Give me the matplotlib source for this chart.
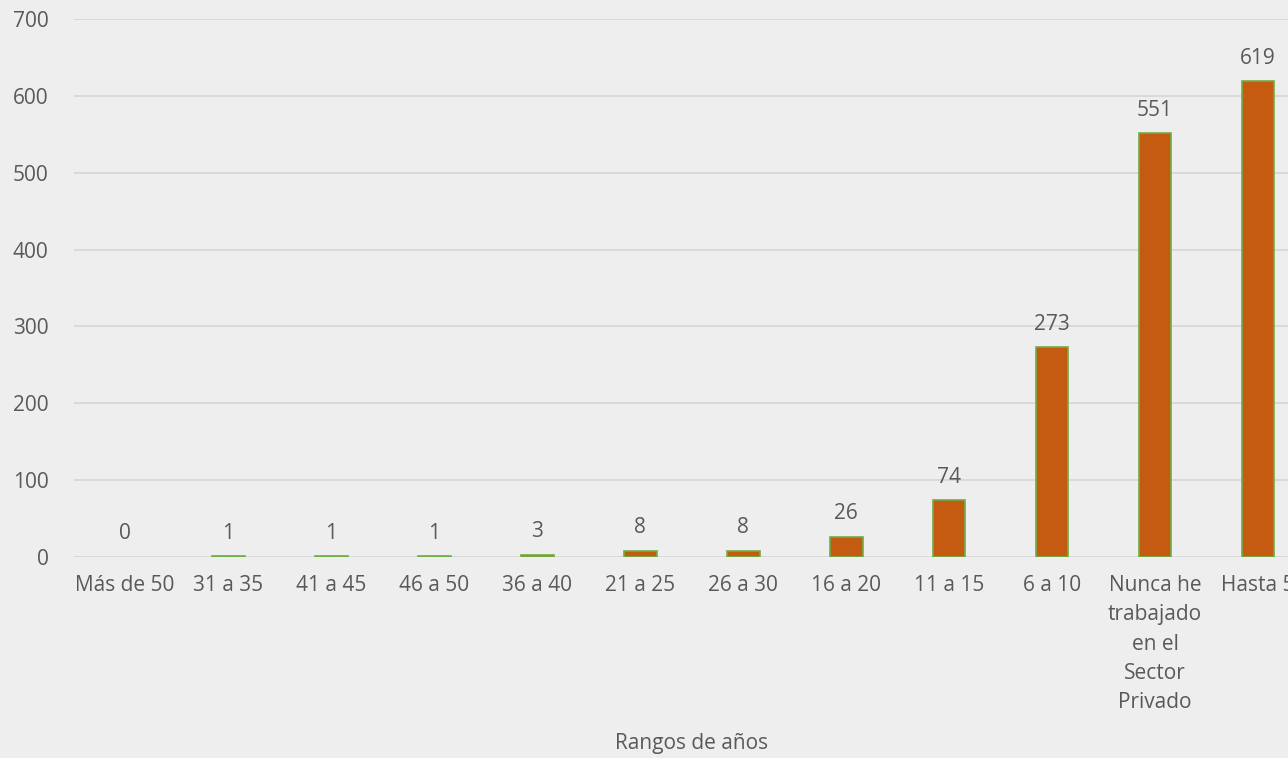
import numpy as np
import matplotlib.pyplot as plt

# Años trabajados en el sector privado
rangos = ["Más de 50", "31 a 35", "41 a 45", "46 a 50", "36 a 40", "21 a 25",
          "26 a 30", "16 a 20", "11 a 15", "6 a 10",
          "Nunca he\ntrabajado\nen el\nSector\nPrivado", "Hasta 5"]
cantidad = [0, 1, 1, 1, 3, 8, 8, 26, 74, 273, 551, 619]
yticks = [0, 100, 200, 300, 400, 500, 600, 700]

texto = "#595959"
plt.rcParams['font.family'] = ['Open Sans', 'DejaVu Sans']

fig = plt.figure(figsize=(12.88, 7.58), dpi=100)
fig.patch.set_facecolor("#EEEEEE")
ax = fig.add_axes([0.0571, 0.2652, 0.9596, 0.7098])
ax.set_facecolor("#EEEEEE")

x = np.arange(len(rangos))
anchos = [0 if v == 0 else 1.2 for v in cantidad]
barras = ax.bar(x, cantidad, width=0.32, color="#C55A11", edgecolor="#70AD47",
                linewidth=anchos, zorder=3)

for xi, v in zip(x, cantidad):
    ax.annotate(str(v), (xi, v), xytext=(0, 9), textcoords="offset points",
                ha="center", va="bottom", fontsize=15, color=texto)

ax.set_xlim(-0.5, len(rangos) - 0.5)
ax.set_ylim(0, 700)
ax.set_yticks(yticks)
ax.set_xticks(x)
ax.set_xticklabels(rangos, linespacing=1.52)
ax.tick_params(axis="both", length=0, labelsize=15, labelcolor=texto)
ax.tick_params(axis="y", pad=18)
ax.tick_params(axis="x", pad=13)

ax.yaxis.grid(True, color="#D9D9D9", linewidth=1.4, zorder=0)
ax.set_axisbelow(True)
for s in ax.spines.values():
    s.set_visible(False)

ax.set_xlabel("Rangos de años", fontsize=15, color=texto, labelpad=14)

fig.savefig("out.png", dpi=100, facecolor=fig.get_facecolor())
